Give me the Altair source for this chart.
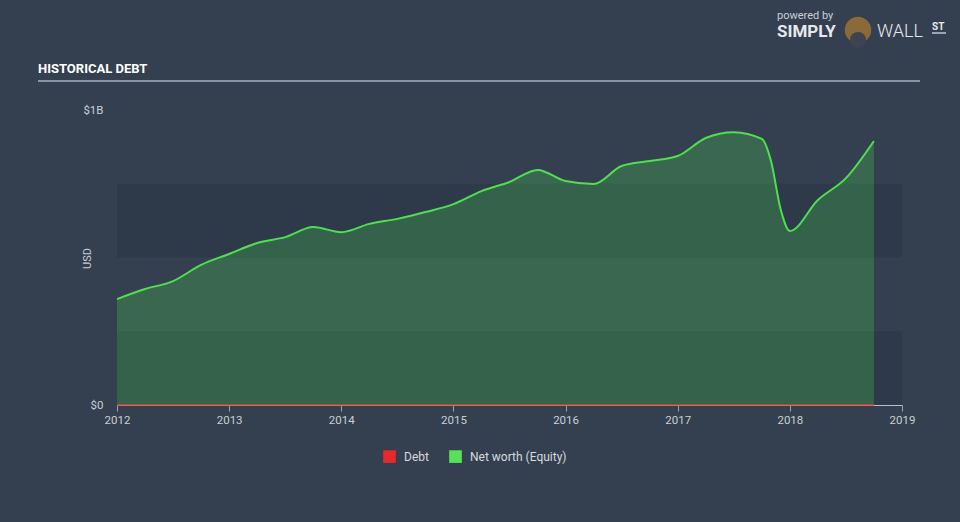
import altair as alt
import pandas as pd

# ---- data ----
years = [2012.00, 2012.25, 2012.50, 2012.75, 2013.00, 2013.25, 2013.50, 2013.75,
         2014.00, 2014.25, 2014.50, 2014.75, 2015.00, 2015.25, 2015.50, 2015.75,
         2016.00, 2016.25, 2016.50, 2016.75, 2017.00, 2017.25, 2017.50, 2017.75,
         2017.83, 2017.92, 2018.00, 2018.25, 2018.50, 2018.75]
net_worth_b = [0.359, 0.393, 0.420, 0.475, 0.512, 0.549, 0.569, 0.603,
               0.586, 0.614, 0.631, 0.654, 0.681, 0.725, 0.756, 0.797,
               0.759, 0.749, 0.810, 0.827, 0.844, 0.905, 0.925, 0.902,
               0.830, 0.660, 0.590, 0.695, 0.769, 0.895]
debt_b = [0.0] * len(years)

series_names = ["Debt", "Net worth (Equity)"]
series_colors = ["#E8282B", "#58E05A"]

band_lo = [0.0, 0.5]
band_hi = [0.25, 0.75]

x_ticks = [2012, 2013, 2014, 2015, 2016, 2017, 2018, 2019]
y_ticks = [0, 1]

BG = "#344050"
FONT = "Roboto"

df = pd.DataFrame({"year": years, "networth": net_worth_b, "debt": debt_b})
bands = pd.DataFrame({"lo": band_lo, "hi": band_hi, "x0": [2012] * 2, "x1": [2019] * 2})
legend_df = pd.DataFrame({"series": series_names, "x": [2012, 2012], "v": [0, 0]})

xscale = alt.Scale(domain=[2012, 2019], nice=False, zero=False)
yscale = alt.Scale(domain=[0, 1], nice=False)

x_axis = alt.Axis(values=x_ticks, format="d", title=None, grid=False,
                  domainColor="#b9bfc7", domainWidth=1, tickColor="#9aa2ad",
                  tickSize=6, labelColor="#c9ced4", labelFontSize=11.5,
                  labelFont=FONT, labelPadding=3, labelFlush=False)
y_axis = alt.Axis(values=y_ticks, labelExpr="datum.value == 0 ? '$0' : '$1B'",
                  title="USD", titleColor="#c9ced4", titleFont=FONT,
                  titleFontSize=11, titleFontWeight="normal",
                  titleX=-30, titleY=148, titleAngle=270, titleAlign="center",
                  titleBaseline="middle",
                  grid=False, domain=False, ticks=False, labelColor="#c9ced4",
                  labelFontSize=11.5, labelFont=FONT, labelPadding=14)

band_layer = alt.Chart(bands).mark_rect(color="#2E3A4A").encode(
    x=alt.X("x0:Q", scale=xscale, axis=x_axis),
    x2="x1:Q",
    y=alt.Y("lo:Q", scale=yscale, axis=y_axis),
    y2="hi:Q",
)

area_layer = alt.Chart(df).mark_area(interpolate="monotone", color="#4ADB4A",
                                     fillOpacity=0.25).encode(
    x=alt.X("year:Q", scale=xscale),
    y=alt.Y("networth:Q", scale=yscale),
)

line_layer = alt.Chart(df).mark_line(interpolate="monotone", color="#4FDF4F",
                                     strokeWidth=2).encode(
    x=alt.X("year:Q", scale=xscale),
    y=alt.Y("networth:Q", scale=yscale),
)

debt_layer = alt.Chart(df).mark_line(color="#E0473A", strokeWidth=1.5).encode(
    x=alt.X("year:Q", scale=xscale),
    y=alt.Y("debt:Q", scale=yscale),
)

legend_layer = alt.Chart(legend_df).mark_rect().encode(
    x=alt.X("x:Q", scale=xscale),
    x2="x:Q",
    y=alt.Y("v:Q", scale=yscale),
    y2="v:Q",
    color=alt.Color("series:N",
                    scale=alt.Scale(domain=series_names, range=series_colors),
                    legend=alt.Legend(title=None, orient="none", direction="horizontal",
                                      legendX=266, legendY=340,
                                      symbolType="square", symbolSize=160,
                                      symbolStrokeWidth=0, labelColor="#d5d9de",
                                      labelFont=FONT, labelFontSize=12,
                                      columnPadding=20, labelOffset=8)),
)

title_text = alt.Chart().mark_text(text="HISTORICAL DEBT", font=FONT,
                                   fontWeight="bold", fontSize=13, color="#FFFFFF",
                                   align="left", baseline="alphabetic").encode(
    x=alt.value(-79), y=alt.value(-37))

title_rule = alt.Chart().mark_rule(color="#A9B0B9", strokeWidth=1.5).encode(
    x=alt.value(-79), x2=alt.value(803), y=alt.value(-29))

pow_text = alt.Chart().mark_text(text="powered by", font=FONT, fontSize=11,
                                 color="#c9ced4", align="left", baseline="middle").encode(
    x=alt.value(660), y=alt.value(-94))
simply_text = alt.Chart().mark_text(text="SIMPLY", font=FONT, fontSize=17, fontWeight="bold",
                                    color="#e6e8eb", align="left", baseline="middle").encode(
    x=alt.value(660), y=alt.value(-78))
wall_text = alt.Chart().mark_text(text="WALL", font=FONT, fontSize=18, fontWeight=300,
                                  color="#e6e8eb", align="left", baseline="middle").encode(
    x=alt.value(760), y=alt.value(-78))
st_text = alt.Chart().mark_text(text="ST", font=FONT, fontSize=10, fontWeight="bold",
                                color="#e6e8eb", align="left", baseline="middle").encode(
    x=alt.value(815), y=alt.value(-83))
st_rule = alt.Chart().mark_rule(color="#e6e8eb", strokeWidth=1.2).encode(
    x=alt.value(815), x2=alt.value(829), y=alt.value(-77))
bull = alt.Chart().mark_point(shape="circle", filled=True, size=700, color="#8a6a3a",
                              opacity=1).encode(
    x=alt.value(741), y=alt.value(-80))
bull_body = alt.Chart().mark_point(shape="circle", filled=True, size=260, color="#3d4450",
                                   opacity=1).encode(
    x=alt.value(741), y=alt.value(-70))

chart = alt.layer(
    band_layer, area_layer, line_layer, debt_layer, legend_layer,
    title_text, title_rule, pow_text, simply_text, wall_text, st_text, st_rule,
    bull, bull_body,
).properties(
    width=785, height=295, background=BG,
    autosize=alt.AutoSizeParams(type="none"),
    padding={"left": 117, "top": 110, "right": 58, "bottom": 117},
).configure_view(strokeWidth=0).configure_legend(padding=0)

chart.save("out.html", embed_options={"renderer": "svg", "actions": False})
